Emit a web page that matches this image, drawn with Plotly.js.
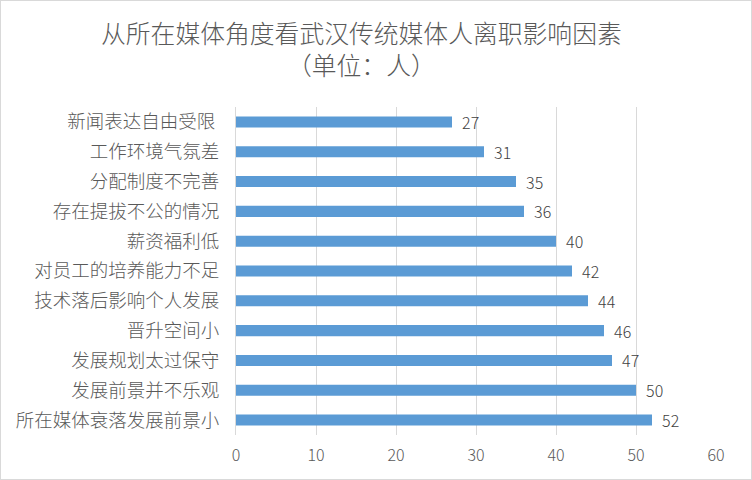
<!DOCTYPE html>
<html>
<head>
<meta charset="utf-8">
<script src="https://cdn.plot.ly/plotly-3.0.1.min.js"></script>
<style>
  html, body { margin: 0; padding: 0; background: #fff; }
  #wrap { position: relative; width: 752px; height: 480px; }
  #chart { width: 752px; height: 480px; }
  #frame { position: absolute; left: 0; top: 0; width: 750px; height: 478px; border: 1px solid #d9d9d9; pointer-events: none; }
</style>
</head>
<body>
<div id="wrap"><div id="chart"></div><div id="frame"></div></div>
<script>
const categories = [
  '新闻表达自由受限\u00a0',
  '工作环境气氛差',
  '分配制度不完善',
  '存在提拔不公的情况',
  '薪资福利低',
  '对员工的培养能力不足',
  '技术落后影响个人发展',
  '晋升空间小',
  '发展规划太过保守',
  '发展前景并不乐观',
  '所在媒体衰落发展前景小'
];
const values = [27, 31, 35, 36, 40, 42, 44, 46, 47, 50, 52];
const xTicks = [0, 10, 20, 30, 40, 50, 60];
const titleLines = ['从所在媒体角度看武汉传统媒体人离职影响因素', '（单位：人）'];

const font = '"Noto Sans CJK SC", "Noto Sans", sans-serif';
const W = 300;

// plot area in pixels: x 236..716, y 107..435
const plotL = 236, plotR = 36, plotT = 107, plotB = 45;
const plotW = 752 - plotL - plotR, plotH = 480 - plotT - plotB;
const titleCx = (361 - plotL) / plotW;

Plotly.newPlot('chart', [{
  type: 'bar',
  orientation: 'h',
  y: categories,
  x: values,
  marker: { color: '#5b9bd5' },
  text: values.map(v => '\u00a0\u00a0' + v),
  textposition: 'outside',
  constraintext: 'none',
  cliponaxis: false,
  textfont: { family: font, size: 16, color: '#404040', weight: W },
  hoverinfo: 'skip'
}], {
  width: 752, height: 480,
  margin: { l: plotL, r: plotR, t: plotT, b: plotB },
  paper_bgcolor: '#fff', plot_bgcolor: '#fff',
  bargap: 0.63,
  showlegend: false,
  annotations: [
    { text: titleLines.join('<br>'), xref: 'paper', yref: 'paper', x: titleCx, y: (435 - 48) / plotH,
      xanchor: 'center', yanchor: 'middle', align: 'center', showarrow: false,
      font: { family: font, size: 24.8, color: '#595959', weight: W } }
  ],
  xaxis: {
    range: [0, 60],
    tickvals: xTicks,
    ticktext: xTicks.map(String),
    showgrid: true, gridcolor: '#d9d9d9', gridwidth: 1,
    zeroline: false, showline: false,
    ticks: '',
    ticklabelstandoff: 9,
    tickfont: { family: font, size: 16, color: '#595959', weight: W },
    fixedrange: true
  },
  yaxis: {
    type: 'category',
    autorange: 'reversed',
    showline: true, linecolor: '#d9d9d9', linewidth: 1,
    showgrid: false, zeroline: false,
    ticks: '',
    ticklabelstandoff: 12,
    tickfont: { family: font, size: 18.5, color: '#595959', weight: W },
    fixedrange: true
  }
}, { displayModeBar: false, staticPlot: true });
</script>
</body>
</html>
